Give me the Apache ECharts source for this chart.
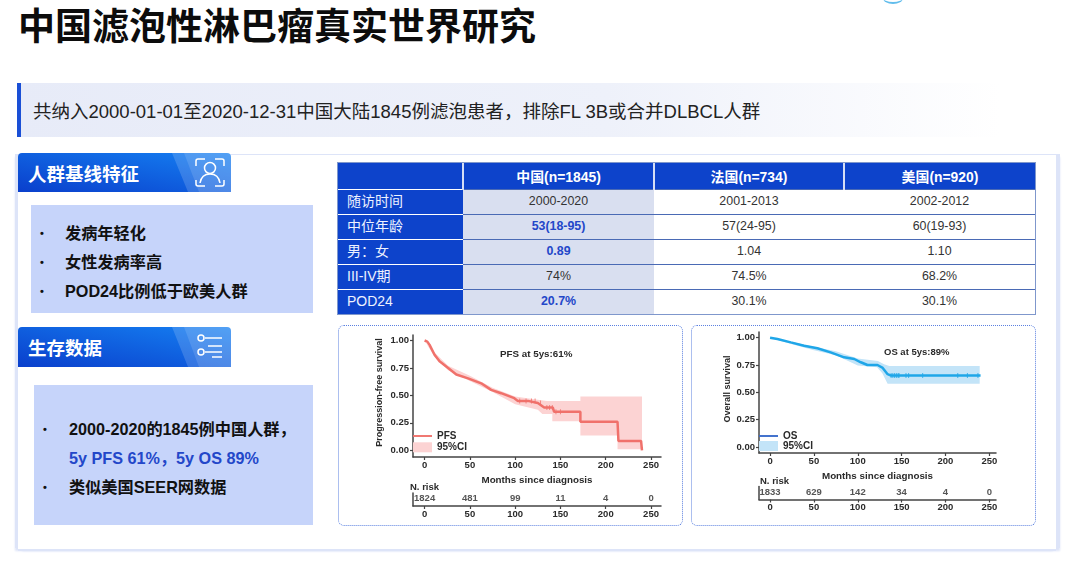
<!DOCTYPE html>
<html>
<head>
<meta charset="utf-8">
<script src="https://cdn.jsdelivr.net/npm/echarts@6/dist/echarts.min.js"></script>
<style>
  html, body { margin: 0; padding: 0; background: #fff; }
  body { width: 1080px; height: 566px; position: relative; overflow: hidden; font-family: "Liberation Sans", "Noto Sans CJK SC", sans-serif; color: #222; }
  .abs { position: absolute; }
  #topArc { left: 883px; top: -8px; width: 20px; height: 10px; border-radius: 50%; border-bottom: 2px solid #62bdec; }
  #title { left: 18px; top: 5px; font-size: 37px; line-height: 46px; font-weight: 700; color: #0c0c0c; white-space: nowrap; }
  #banner { left: 17px; top: 83px; width: 983px; height: 54px; background: linear-gradient(90deg, #e7ebf8 0%, #eef1fa 60%, #fff 100%); }
  #banner i { position: absolute; left: 0; top: 0; width: 4px; height: 54px; background: #1a4fd6; }
  #banner span { position: absolute; left: 16px; top: 0; line-height: 57px; font-size: 18.5px; color: #222; white-space: nowrap; }
  #sheet { left: 18px; top: 155px; width: 1038px; height: 394px; background: #fff; box-shadow: -3px -1px 0 #dde4f8, 4px -1px 0 #dde4f8, 0 2px 0 #dde4f8, -3px 2px 2px #dde4f8, 4px 2px 2px #dde4f8; }
  .head { left: 18px; width: 213px; height: 39px; }
  .head svg { position: absolute; left: 0; top: 0; }
  .head b { position: absolute; left: 10px; top: 0; line-height: 43px; font-size: 18.5px; color: #fff; white-space: nowrap; }
  .box { background: #c6d4fa; font-weight: 700; font-size: 16.2px; color: #111; }
  .box div { position: absolute; white-space: nowrap; line-height: 20px; }
  .box div.dot { font-size: 11px; }
  .blue { color: #2347c9; }
  table { left: 338px; top: 163px; width: 697px; height: 151px; border-collapse: collapse; table-layout: fixed; font-size: 12.4px; box-shadow: 0 0 0 1px #7f97cc; }
  th, td { padding: 0 0 3px; text-align: center; border-top: 1px solid #4a6ab5; color: #333; height: 21px; line-height: 14px; overflow: hidden; }
  th { background: #0d43cb; color: #fff; font-size: 13.9px; border: 0; border-left: 2px solid #d5def5; height: 25px; padding: 1px 0 0; }
  th:first-child { border-left: 0; }
  td.label { background: #0d43cb; color: #eef2ff; text-align: left; padding-left: 9px; font-size: 14px; border-top: 1px solid #fff; }
  td.cn { background: #d9dff0; }
  td.hl { color: #2347c9; font-weight: 700; }
  .panel { top: 325px; width: 343px; height: 199px; border: 1px dotted #5b80e0; border-radius: 6px; box-sizing: content-box; }
  .chart { position: absolute; left: 0; top: 0; width: 343px; height: 199px; }
</style>
</head>
<body>
<div class="abs" id="topArc"></div>
<div class="abs" id="title">中国滤泡性淋巴瘤真实世界研究</div>
<div class="abs" id="banner"><i></i><span>共纳入2000-01-01至2020-12-31中国大陆1845例滤泡患者，排除FL 3B或合并DLBCL人群</span></div>
<div class="abs" id="sheet"></div>

<div class="abs head" style="top:153px">
  <svg width="213" height="39">
    <defs>
      <linearGradient id="hg" x1="0" y1="1" x2="1" y2="0"><stop offset="0" stop-color="#0a3fcc"/><stop offset="1" stop-color="#1580f2"/></linearGradient>
    </defs>
    <path d="M0 39V4a4 4 0 0 1 4-4H209a4 4 0 0 1 4 4V39Z" fill="url(#hg)"/>
    <path d="M154 0H213V39H170Z" fill="#fff" opacity=".16"/>
    <path d="M166 0H213V39H181Z" fill="#fff" opacity=".12"/>
    <g fill="none" stroke="#fff" stroke-width="1.5">
      <path d="M178 13V8a2 2 0 0 1 2-2H187M197 6H204a2 2 0 0 1 2 2V13M206 27V31a2 2 0 0 1-2 2H197M187 33H180a2 2 0 0 1-2-2V27"/>
      <circle cx="192" cy="15" r="5.5"/>
      <path d="M182 30c1-6 5-9 10-9s9 3 10 9"/>
    </g>
  </svg>
  <b>人群基线特征</b>
</div>
<div class="abs box" style="left:31px;top:205px;width:282px;height:108px">
  <div class="dot" style="left:9px;top:18px">•</div><div style="left:34px;top:18px">发病年轻化</div>
  <div class="dot" style="left:9px;top:47px">•</div><div style="left:34px;top:47px">女性发病率高</div>
  <div class="dot" style="left:9px;top:76px">•</div><div style="left:34px;top:76px">POD24比例低于欧美人群</div>
</div>

<div class="abs head" style="top:327px;height:40px">
  <svg width="213" height="40">
    <path d="M0 40V4a4 4 0 0 1 4-4H209a4 4 0 0 1 4 4V40Z" fill="url(#hg)"/>
    <path d="M154 0H213V40H170Z" fill="#fff" opacity=".16"/>
    <path d="M166 0H213V40H181Z" fill="#fff" opacity=".12"/>
    <g fill="none" stroke="#fff" stroke-width="1.5">
      <circle cx="183" cy="11" r="3"/><path d="M187 11H204"/>
      <path d="M190 19H204"/>
      <circle cx="183" cy="25" r="3"/><path d="M187 25H204"/>
      <path d="M194 30H204"/>
    </g>
  </svg>
  <b>生存数据</b>
</div>
<div class="abs box" style="left:34px;top:385px;width:279px;height:140px">
  <div class="dot" style="left:9px;top:34px">•</div><div style="left:35px;top:34px">2000-2020的1845例中国人群，</div>
  <div class="blue" style="left:35px;top:63px">5y PFS 61%，5y OS 89%</div>
  <div class="dot" style="left:9px;top:92px">•</div><div style="left:35px;top:92px">类似美国SEER网数据</div>
</div>

<table class="abs" id="tbl"></table>

<div class="abs panel" style="left:338px"><div class="chart" id="pfsChart"></div></div>
<div class="abs panel" style="left:691px"><div class="chart" id="osChart"></div></div>

<script>
// Table
const tableHeader = ['', '中国(n=1845)', '法国(n=734)', '美国(n=920)']
const tableLabels = ['随访时间', '中位年龄', '男：女', 'III-IV期', 'POD24']
const chinaValues = ['2000-2020', '53(18-95)', '0.89', '74%', '20.7%']
const franceValues = ['2001-2013', '57(24-95)', '1.04', '74.5%', '30.1%']
const usaValues = ['2002-2012', '60(19-93)', '1.10', '68.2%', '30.1%']
const chinaHighlight = [false, true, true, false, true]

// PFS curve
const pfsMonths = [0, 3, 5.5, 11, 16.5, 26, 35, 48, 62.5, 73.5, 84.5, 99, 103, 114, 125, 132, 141.5, 143, 172, 172, 213, 214, 239, 240]
const pfsValues = [1, 0.99, 0.96, 0.87, 0.81, 0.75, 0.69, 0.655, 0.61, 0.55, 0.52, 0.475, 0.45, 0.45, 0.43, 0.39, 0.39, 0.35, 0.35, 0.26, 0.26, 0.085, 0.085, 0]
const pfsCiMonths = [0, 11, 26, 50, 75, 100, 125, 135, 143, 172, 172, 240, 240, 213, 213, 172, 172, 141, 141, 130, 125, 100, 75, 50, 26, 11, 0]
const pfsCiValues = [1, 0.89, 0.77, 0.68, 0.57, 0.49, 0.46, 0.45, 0.45, 0.45, 0.49, 0.49, 0.01, 0.01, 0.135, 0.135, 0.265, 0.265, 0.33, 0.33, 0.37, 0.42, 0.53, 0.63, 0.73, 0.85, 1]
const pfsCensor = [105, 112, 118, 122, 128, 135, 138, 141, 145, 150]
const pfsRisk = [1824, 481, 99, 11, 4, 0]

// OS curve
const osMonths = [0, 8.4, 23.6, 38.8, 54, 69, 84.5, 96, 103.5, 111, 122.5, 128, 134, 138, 240]
const osValues = [1, 0.988, 0.957, 0.927, 0.903, 0.866, 0.82, 0.805, 0.775, 0.75, 0.75, 0.727, 0.666, 0.653, 0.653]
const osCiMonths = [0, 23, 50, 75, 100, 123, 130, 136, 239, 239, 134, 128, 122, 100, 75, 50, 23, 0]
const osCiValues = [1, 0.965, 0.918, 0.875, 0.81, 0.787, 0.757, 0.742, 0.742, 0.578, 0.578, 0.675, 0.73, 0.745, 0.84, 0.885, 0.945, 1]
const osCensor = [138, 140, 142, 144, 146, 147, 155, 158, 174, 214, 225, 237]
const osRisk = [1833, 629, 142, 34, 4, 0]

// Axes
const monthTicks = [0, 50, 100, 150, 200, 250]
const survivalTicks = [0, 0.25, 0.5, 0.75, 1]

const tbl = document.getElementById('tbl')
let html = '<colgroup><col style="width:125px"><col style="width:191px"><col style="width:190px"><col style="width:191px"></colgroup>'
html += '<tr>' + tableHeader.map(t => `<th>${t}</th>`).join('') + '</tr>'
tableLabels.forEach((label, i) => {
  html += `<tr><td class="label">${label}</td><td class="cn${chinaHighlight[i] ? ' hl' : ''}">${chinaValues[i]}</td><td>${franceValues[i]}</td><td>${usaValues[i]}</td></tr>`
})
tbl.innerHTML = html

const AXIS_COLOR = '#444'
const TEXT_COLOR = '#2a2a2a'
const FONT = '"Liberation Sans", sans-serif'

// Builds one survival panel: curve grid on top, number-at-risk grid below
const kmOption = c => {
  const label = { color: TEXT_COLOR, fontFamily: FONT, fontWeight: 'bold', fontSize: 9.5 }
  const axisLine = { onZero: false, lineStyle: { color: AXIS_COLOR, width: 1.5 } }
  const axisTick = { length: 3, lineStyle: { color: AXIS_COLOR, width: 1.2 } }
  return {
    animation: false,
    textStyle: { fontFamily: FONT },
    grid: [
      { left: c.left, width: c.width, top: c.top, height: c.height },
      { left: c.left, width: c.width, top: c.riskTop, height: 13 }
    ],
    xAxis: [
      {
        type: 'value', gridIndex: 0, min: c.xMin, max: c.xMax, splitLine: { show: false },
        axisLine, axisTick: { ...axisTick, customValues: monthTicks },
        axisLabel: { ...label, margin: 3, customValues: monthTicks },
        name: 'Months since diagnosis', nameLocation: 'middle', nameGap: 14,
        nameTextStyle: { ...label, fontSize: 9.8 }
      },
      {
        type: 'value', gridIndex: 1, min: c.xMin, max: c.xMax, splitLine: { show: false },
        axisLine, axisTick: { ...axisTick, customValues: monthTicks },
        axisLabel: { ...label, margin: 3, customValues: monthTicks }
      }
    ],
    yAxis: [
      {
        type: 'value', gridIndex: 0, min: c.yMin, max: c.yMax, splitLine: { show: false },
        axisLine: { show: true, ...axisLine }, axisTick: { show: true, ...axisTick, customValues: survivalTicks },
        axisLabel: {
          ...label, margin: 4, customValues: survivalTicks,
          formatter: v => v.toFixed(2)
        },
        name: c.yName, nameLocation: 'middle', nameGap: c.nameGap, nameMoveOverlap: false,
        nameTextStyle: { ...label, fontSize: 9, padding: [0, 0, 0, 7] }
      },
      {
        type: 'value', gridIndex: 1, min: 0, max: 1, splitLine: { show: false },
        axisLine: { show: true, ...axisLine }, axisTick: { show: false }, axisLabel: { show: false }
      }
    ],
    legend: {
      left: c.left, top: c.legendTop, padding: 0, orient: 'vertical', itemWidth: 19, itemHeight: 10, itemGap: c.legendGap,
      textStyle: { ...label, fontSize: 10 },
      data: [
        { name: c.name, icon: 'path://M0 4.5H10V5.5H0Z', itemStyle: { color: c.legendLine }, lineStyle: { color: c.legendLine, width: 2 } },
        { name: '95%CI', icon: 'rect', itemStyle: { color: c.ciColor } }
      ]
    },
    graphic: [
      { type: 'text', left: c.noteLeft, top: c.noteTop, style: { text: c.note, fill: TEXT_COLOR, font: `bold ${c.noteSize}px ${FONT}` } },
      { type: 'text', left: c.riskTitleLeft, top: c.riskTitleTop, style: { text: 'N. risk', fill: TEXT_COLOR, font: `bold 9.5px ${FONT}` } }
    ],
    series: [
      {
        name: '95%CI', type: 'custom', xAxisIndex: 0, yAxisIndex: 0, coordinateSystem: 'cartesian2d',
        itemStyle: { color: c.ciColor },
        data: [[c.ciMonths[0], c.ciValues[0]]],
        renderItem: (params, api) => ({
          type: 'polygon',
          shape: { points: c.ciMonths.map((m, i) => api.coord([m, c.ciValues[i]])) },
          style: { fill: c.ciColor }
        })
      },
      {
        name: c.name, type: 'line', xAxisIndex: 0, yAxisIndex: 0, showSymbol: false, symbol: 'none',
        lineStyle: { color: c.lineColor, width: 2.5 }, itemStyle: { color: c.lineColor }, z: 3,
        data: c.months.map((m, i) => [m, c.values[i]])
      },
      {
        name: 'censor', type: 'scatter', xAxisIndex: 0, yAxisIndex: 0, symbol: 'path://M0 0H1V10H0Z', symbolSize: [1, 5],
        itemStyle: { color: c.lineColor }, z: 4,
        data: c.censor.map(m => {
          const j = c.months.findIndex((x, i) => x <= m && (c.months[i + 1] === undefined || c.months[i + 1] > m))
          return [m, c.values[j]]
        })
      },
      {
        name: 'risk', type: 'scatter', xAxisIndex: 1, yAxisIndex: 1, symbolSize: 0,
        label: { show: true, position: 'inside', ...label, formatter: p => p.value[2] },
        data: monthTicks.map((m, i) => [m, 0.55, c.risk[i]])
      }
    ]
  }
}

const pfsChart = echarts.init(document.getElementById('pfsChart'))
pfsChart.setOption(kmOption({
  name: 'PFS', months: pfsMonths, values: pfsValues, ciMonths: pfsCiMonths, ciValues: pfsCiValues,
  censor: pfsCensor, risk: pfsRisk, lineColor: '#f0716b', legendLine: '#f0716b', ciColor: '#fcd3d3',
  yName: 'Progression-free survival', nameGap: 29, note: 'PFS at 5ys:61%', noteSize: 9.8, noteLeft: 161, noteTop: 23,
  left: 74, width: 248, top: 9, height: 122, riskTop: 167,
  xMin: -12.8, xMax: 261, yMin: -0.061, yMax: 1.05, legendTop: 105, legendGap: 1.3,
  riskTitleLeft: 71, riskTitleTop: 156
}))

const osChart = echarts.init(document.getElementById('osChart'))
osChart.setOption(kmOption({
  name: 'OS', months: osMonths, values: osValues, ciMonths: osCiMonths, ciValues: osCiValues,
  censor: osCensor, risk: osRisk, lineColor: '#1fa6e8', legendLine: '#3a6ccb', ciColor: '#c3e4f8',
  yName: 'Overall survival', nameGap: 27, note: 'OS at 5ys:89%', noteSize: 9.5, noteLeft: 192, noteTop: 21,
  left: 67, width: 237, top: 6, height: 121, riskTop: 160.5,
  xMin: -12.6, xMax: 257.6, yMin: -0.055, yMax: 1.052, legendTop: 105, legendGap: 0,
  riskTitleLeft: 68, riskTitleTop: 150
}))
</script>
</body>
</html>
